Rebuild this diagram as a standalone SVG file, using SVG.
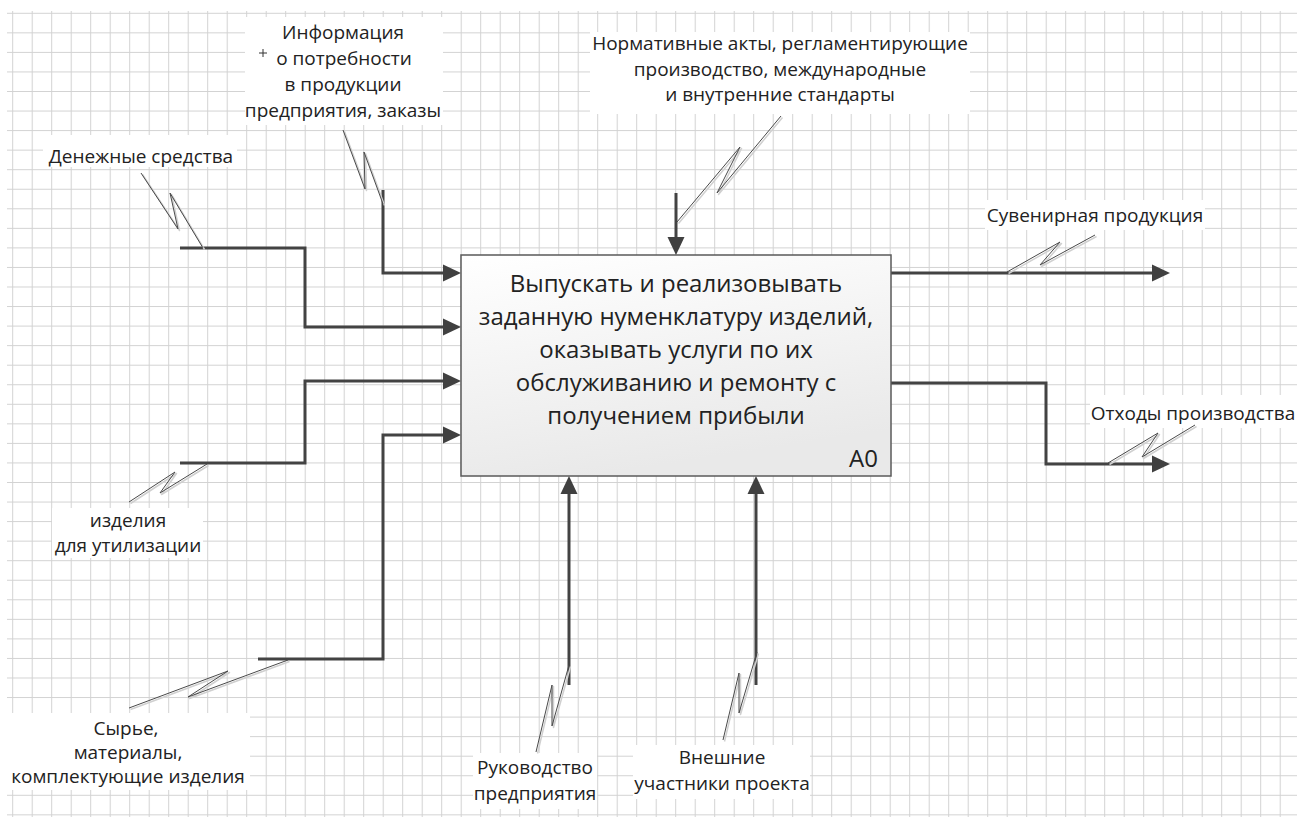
<svg xmlns="http://www.w3.org/2000/svg" width="1297" height="817" viewBox="0 0 1297 817">
  <defs>
    <pattern id="grid" patternUnits="userSpaceOnUse" x="12.2" y="12.8" width="19.5" height="19.55">
      <path d="M0.5 0 V19.55 M0 0.5 H19.5" fill="none" stroke="#d2d2d2" stroke-width="1"/>
    </pattern>
    <linearGradient id="boxFill" x1="0" y1="0" x2="0.3" y2="1">
      <stop offset="0" stop-color="#ffffff"/>
      <stop offset="1" stop-color="#e9e9e9"/>
    </linearGradient>
    <marker id="arrow" markerUnits="userSpaceOnUse" markerWidth="20" markerHeight="20" refX="0" refY="9" orient="auto" viewBox="0 0 20 18">
      <path d="M0 0.5 L18 9 L0 17.5 Z" fill="#404040"/>
    </marker>
  </defs>
  <style>
    .lbl { font-family: "Open Sans", "Noto Sans", sans-serif; font-size: 19px; fill: #222; text-anchor: middle; }
    .main { font-family: "Open Sans", "Noto Sans", sans-serif; font-size: 24px; fill: #222; text-anchor: middle; }
    .bg { fill: #ffffff; }
    .flow { fill: none; stroke: #434343; stroke-width: 3; marker-end: url(#arrow); }
    .sq { fill: none; stroke: #4a4a4a; stroke-width: 1; stroke-linejoin: round; }
    .sqs { fill: none; stroke: #d0d0d0; stroke-width: 1.5; stroke-linejoin: round; }
  </style>

  <rect width="1297" height="817" fill="#ffffff"/>
  <rect x="7" y="11" width="1290" height="806" fill="url(#grid)"/>

  <!-- label backgrounds -->
  <g id="label-backgrounds">
    <rect class="bg" x="245" y="17" width="198" height="108"/>
    <rect class="bg" x="590" y="32" width="380" height="82"/>
    <rect class="bg" x="43" y="135" width="194" height="32"/>
    <rect class="bg" x="985" y="200" width="220" height="30"/>
    <rect class="bg" x="1090" y="395" width="207" height="33"/>
    <rect class="bg" x="52" y="508" width="151" height="50"/>
    <rect class="bg" x="6" y="713" width="244" height="77"/>
    <rect class="bg" x="473" y="753" width="124" height="56"/>
    <rect class="bg" x="633" y="745" width="177" height="54"/>
  </g>

  <!-- arrows -->
  <g id="connectors">
    <path class="flow" d="M383 190 V273 H443"/>
    <path class="flow" d="M180 248 H305 V327 H443"/>
    <path class="flow" d="M180 463 H305 V381 H443"/>
    <path class="flow" d="M258 659 H383 V435 H443"/>
    <path class="flow" d="M676 193 V237"/>
    <path class="flow" d="M569 685 V494"/>
    <path class="flow" d="M756 685 V494"/>
    <path class="flow" d="M891 273 H1152"/>
    <path class="flow" d="M891 383 H1046 V464 H1152"/>
  </g>

  <!-- squiggle leaders from labels to arrows -->
  <g id="leaders">
    <g transform="translate(1.5 1.5)">
      <polyline class="sqs" points="141,173 178,229 170,193 203,248"/>
      <polyline class="sqs" points="343,130 365,189 364,152 383,204"/>
      <polyline class="sqs" points="781,116 717,193 740,147 677,222"/>
      <polyline class="sqs" points="1095,235 1040,265 1060,242 1007,272"/>
      <polyline class="sqs" points="1195,425 1142,457 1158,433 1108,463"/>
      <polyline class="sqs" points="129,502 175,472 160,493 207,464"/>
      <polyline class="sqs" points="129,708 228,671 188,697 288,660"/>
      <polyline class="sqs" points="536,752 552,685 552,726 569,665"/>
      <polyline class="sqs" points="723,740 739,673 739,713 757,652"/>
    </g>
    <polyline class="sq" points="141,173 178,229 170,193 203,248"/>
    <polyline class="sq" points="343,130 365,189 364,152 383,204"/>
    <polyline class="sq" points="781,116 717,193 740,147 677,222"/>
    <polyline class="sq" points="1095,235 1040,265 1060,242 1007,272"/>
    <polyline class="sq" points="1195,425 1142,457 1158,433 1108,463"/>
    <polyline class="sq" points="129,502 175,472 160,493 207,464"/>
    <polyline class="sq" points="129,708 228,671 188,697 288,660"/>
    <polyline class="sq" points="536,752 552,685 552,726 569,665"/>
    <polyline class="sq" points="723,740 739,673 739,713 757,652"/>
  </g>

  <!-- function block -->
  <g id="node-A0">
    <rect x="461" y="255" width="430" height="221" fill="url(#boxFill)" stroke="#5a5a5a" stroke-width="1.5"/>
    <text class="main" x="676" y="292">Выпускать и реализовывать</text>
    <text class="main" x="676" y="325">заданную нуменклатуру изделий,</text>
    <text class="main" x="676" y="358">оказывать услуги по их</text>
    <text class="main" x="676" y="391">обслуживанию и ремонту с</text>
    <text class="main" x="676" y="424">получением прибыли</text>
    <text class="main" x="878" y="467" style="text-anchor:end">A0</text>
  </g>

  <!-- labels -->
  <g id="label-info">
    <text class="lbl" x="343" y="39">Информация</text>
    <text class="lbl" x="344" y="65">о потребности</text>
    <text class="lbl" x="343" y="91">в продукции</text>
    <text class="lbl" x="343" y="117">предприятия, заказы</text>
    <path d="M259 53 H267 M263 49 V57" stroke="#333" stroke-width="1" fill="none"/>
  </g>
  <g id="label-money">
    <text class="lbl" x="141" y="163">Денежные средства</text>
  </g>
  <g id="label-norms">
    <text class="lbl" x="780" y="50">Нормативные акты, регламентирующие</text>
    <text class="lbl" x="780" y="76">производство, международные</text>
    <text class="lbl" x="780" y="101">и внутренние стандарты</text>
  </g>
  <g id="label-souvenir">
    <text class="lbl" x="1095" y="222">Сувенирная продукция</text>
  </g>
  <g id="label-waste">
    <text class="lbl" x="1193" y="420">Отходы производства</text>
  </g>
  <g id="label-recycle">
    <text class="lbl" x="128" y="527">изделия</text>
    <text class="lbl" x="128" y="552">для утилизации</text>
  </g>
  <g id="label-materials">
    <text class="lbl" x="126" y="735">Сырье,</text>
    <text class="lbl" x="128" y="759">материалы,</text>
    <text class="lbl" x="128" y="783">комплектующие изделия</text>
  </g>
  <g id="label-management">
    <text class="lbl" x="535" y="774">Руководство</text>
    <text class="lbl" x="535" y="800">предприятия</text>
  </g>
  <g id="label-external">
    <text class="lbl" x="722" y="764">Внешние</text>
    <text class="lbl" x="722" y="790">участники проекта</text>
  </g>
</svg>
